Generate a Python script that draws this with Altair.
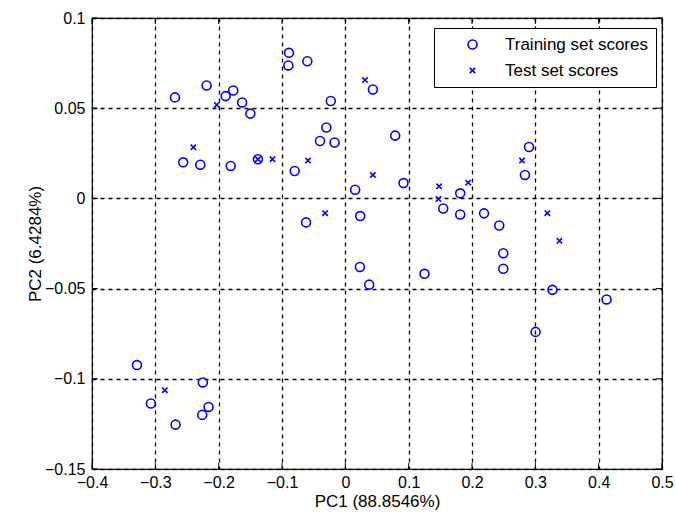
import altair as alt
import pandas as pd

train_x = [-0.269, -0.219, -0.189, -0.177, -0.163, -0.150, -0.256, -0.229, -0.181, -0.138,
           -0.089, -0.090, -0.060, -0.023, -0.030, -0.040, -0.017, -0.080, 0.0155, -0.062,
           0.0235, 0.0435, 0.0787, 0.0918, 0.1546, 0.1814, 0.1814, 0.219, 0.243, 0.290,
           0.2836, 0.2494, 0.2494, 0.023, 0.0377, 0.125, 0.327, 0.4125, 0.3004, -0.329,
           -0.225, -0.307, -0.216, -0.226, -0.268]
train_y = [0.056, 0.0626, 0.0567, 0.0598, 0.0532, 0.047, 0.020, 0.0187, 0.018, 0.0217,
           0.0807, 0.0737, 0.076, 0.054, 0.0393, 0.0318, 0.031, 0.0152, 0.0048, -0.0133,
           -0.0098, 0.0604, 0.0348, 0.0085, -0.0056, 0.0028, -0.0089, -0.0083, -0.015, 0.0285,
           0.013, -0.0304, -0.039, -0.038, -0.0478, -0.0418, -0.0507, -0.056, -0.074, -0.0924,
           -0.102, -0.1137, -0.1156, -0.120, -0.1254]
test_x = [-0.203, -0.240, -0.138, -0.115, -0.059, 0.0435, -0.032, 0.031, 0.148, 0.147,
          0.194, 0.279, 0.319, 0.338, -0.285]
test_y = [0.0518, 0.0283, 0.0217, 0.0217, 0.021, 0.013, -0.0082, 0.0656, 0.0067, -0.0004,
          0.0087, 0.021, -0.0082, -0.0235, -0.1063]

x_ticks = [-0.4, -0.3, -0.2, -0.1, 0, 0.1, 0.2, 0.3, 0.4, 0.5]
y_ticks = [-0.15, -0.1, -0.05, 0, 0.05, 0.1]
series = ["Training set scores", "Test set scores"]

df = pd.DataFrame({
    "x": train_x + test_x,
    "y": train_y + test_y,
    "set": [series[0]] * len(train_x) + [series[1]] * len(test_x),
})

W, H = 570, 451
FONT = "Liberation Sans, Arial"
BLUE = "#0000ff"

xs = alt.Scale(domain=[-0.4, 0.5], nice=False, zero=False)
ys = alt.Scale(domain=[-0.15, 0.1], nice=False, zero=False)

xaxis = alt.Axis(values=x_ticks, title="PC1 (88.8546%)", ticks=False, domain=False,
                 labelPadding=5, labelFontSize=16, titleFontSize=17, titleFontWeight="normal",
                 titlePadding=3, labelColor="black", titleColor="black", labelFont=FONT, titleFont=FONT,
                 grid=True, gridDash=[4, 4], gridColor="black", gridWidth=1.3, gridOpacity=1,
                 format="~g", labelFlush=False)
yaxis = alt.Axis(values=y_ticks, title="PC2 (6.4284%)", ticks=False, domain=False,
                 labelPadding=7, labelFontSize=16, titleFontSize=17, titleFontWeight="normal",
                 titlePadding=0, labelColor="black", titleColor="black", labelFont=FONT, titleFont=FONT,
                 grid=True, gridDash=[4, 4], gridColor="black", gridWidth=1.3, gridOpacity=1,
                 format="~g", labelFlush=False)

points = alt.Chart(df).mark_point(filled=False, strokeWidth=1.6, color=BLUE, opacity=1, size=80).encode(
    x=alt.X("x:Q", scale=xs, axis=xaxis),
    y=alt.Y("y:Q", scale=ys, axis=yaxis),
    shape=alt.Shape("set:N", scale=alt.Scale(domain=series,
                    range=["circle", "M-0.6,-0.6L0.6,0.6M-0.6,0.6L0.6,-0.6"]),
                    legend=alt.Legend(title=None, orient="none", legendX=342, legendY=10,
                                      strokeColor="black", fillColor="white", padding=8,
                                      symbolOffset=22, labelOffset=24, labelFontSize=17,
                                      labelFont=FONT, labelColor="black", rowPadding=8,
                                      symbolSize=80, symbolFillColor="transparent",
                                      symbolStrokeColor=BLUE, symbolStrokeWidth=1.6,
                                      labelLimit=300)),
)

xt = pd.DataFrame({"v": x_ticks})
yt = pd.DataFrame({"v": y_ticks})

top_ticks = alt.Chart(xt).mark_rule(color="black", strokeWidth=1).encode(
    x=alt.X("v:Q", scale=xs), y=alt.value(0), y2=alt.value(6))
bot_ticks = alt.Chart(xt).mark_rule(color="black", strokeWidth=1).encode(
    x=alt.X("v:Q", scale=xs), y=alt.value(H - 6), y2=alt.value(H))
left_ticks = alt.Chart(yt).mark_rule(color="black", strokeWidth=1).encode(
    y=alt.Y("v:Q", scale=ys), x=alt.value(0), x2=alt.value(6))
right_ticks = alt.Chart(yt).mark_rule(color="black", strokeWidth=1).encode(
    y=alt.Y("v:Q", scale=ys), x=alt.value(W - 6), x2=alt.value(W))

chart = alt.layer(top_ticks, bot_ticks, left_ticks, right_ticks, points).properties(
    width=W, height=H,
    autosize=alt.AutoSizeParams(type="none"),
    padding={"left": 92, "top": 18, "right": 14, "bottom": 46},
    background="white",
).configure_view(stroke="black", strokeWidth=1.2)

chart.save("out.html", embed_options={"renderer": "svg", "actions": False})
